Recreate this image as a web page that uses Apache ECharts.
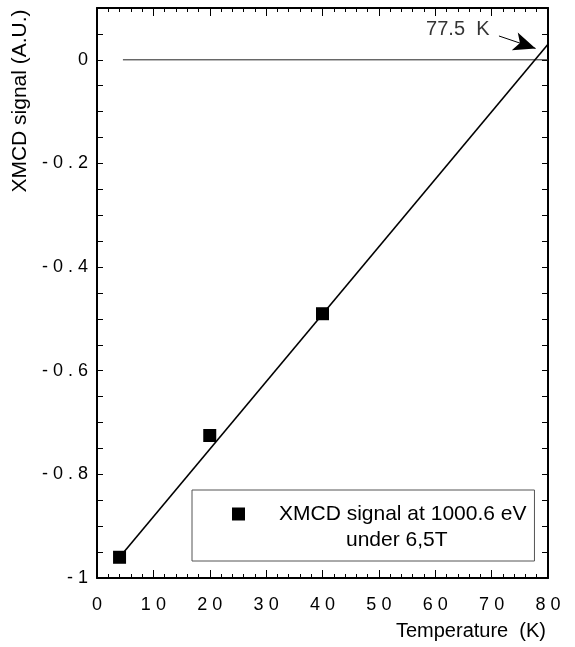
<!DOCTYPE html>
<html>
<head>
<meta charset="utf-8">
<script src="https://cdn.jsdelivr.net/npm/echarts@6/dist/echarts.min.js"></script>
<style>html,body{margin:0;padding:0;background:#fff;}#c{width:575px;height:647px;}</style>
</head>
<body>
<div id="c"></div>
<script>
// ---- data ----
const xTickValues = [0, 10, 20, 30, 40, 50, 60, 70, 80];
const xTickLabels = ['0', '1 0', '2 0', '3 0', '4 0', '5 0', '6 0', '7 0', '8 0'];
const yTickValues = [-1, -0.8, -0.6, -0.4, -0.2, 0];
const yTickLabels = ['- 1', '- 0 . 8', '- 0 . 6', '- 0 . 4', '- 0 . 2', '0'];
const temperature = [4, 20, 40];
const signal = [-0.96, -0.725, -0.49];
const fitT = [4, 80];
const fitSignal = [-0.96, 0.03];
const zeroT = [4.6, 80];
const zeroSignal = [0, 0];
const arrowT = [71.3, 77.8];
const arrowSignal = [0.046, 0.022];
const annotT = [64];
const annotSignal = [0.058];
const annotText = '77.5  K';
const legendLine1 = 'XMCD signal at 1000.6 eV';
const legendLine2 = 'under 6,5T';

const FONT = 'Liberation Sans, Arial, Helvetica, sans-serif';
const zip = (a, b) => a.map((v, i) => [v, b[i]]);
const lookup = (vals, labels) => (v) => {
  for (let i = 0; i < vals.length; i++) if (Math.abs(vals[i] - v) < 1e-9) return labels[i];
  return '';
};

const chart = echarts.init(document.getElementById('c'), null, {renderer: 'canvas'});
const black = '#000';
const baseX = {
  type: 'value', min: 0, max: 80, interval: 10,
  axisLine: {show: true, onZero: false, lineStyle: {color: black, width: 2}},
  axisTick: {show: true, inside: true, length: 8, lineStyle: {color: black, width: 1}},
  minorTick: {show: true, splitNumber: 5, length: 4, lineStyle: {color: black, width: 1}},
  splitLine: {show: false}
};
const baseY = {
  type: 'value', min: -1, max: 0.1, interval: 0.05,
  axisLine: {show: true, onZero: false, lineStyle: {color: black, width: 2}},
  axisTick: {show: true, inside: true, length: 6, lineStyle: {color: black, width: 1}},
  splitLine: {show: false}
};

chart.setOption({
  animation: false,
  backgroundColor: '#fff',
  textStyle: {fontFamily: FONT, color: black},
  grid: {left: 97, right: 27, top: 8, bottom: 69},
  xAxis: [
    Object.assign({}, baseX, {
      position: 'bottom',
      name: 'Temperature  (K)', nameLocation: 'end', nameGap: -2,
      nameTextStyle: {fontFamily: FONT, fontSize: 20, color: black, align: 'right', verticalAlign: 'top', padding: [43, 0, 0, 0]},
      axisLabel: {show: true, margin: 18, fontFamily: FONT, fontSize: 18, color: black, formatter: lookup(xTickValues, xTickLabels)}
    }),
    Object.assign({}, baseX, {position: 'top', axisLabel: {show: false}})
  ],
  yAxis: [
    Object.assign({}, baseY, {
      position: 'left',
      name: 'XMCD signal (A.U.)', nameLocation: 'middle', nameGap: 64, nameRotate: 90,
      nameTextStyle: {fontFamily: FONT, fontSize: 21, color: black, padding: [0, 0, 0, 384]},
      axisLabel: {show: true, margin: 9, fontFamily: FONT, fontSize: 18, color: black, formatter: lookup(yTickValues, yTickLabels), showMaxLabel: false}
    }),
    Object.assign({}, baseY, {position: 'right', axisLabel: {show: false}})
  ],
  legend: {
    show: true, orient: 'vertical', left: 192, top: 490,
    padding: [13, 8, 10, 40],
    itemWidth: 13, itemHeight: 13, itemGap: 4,
    backgroundColor: '#fff', borderColor: '#555', borderWidth: 1, borderRadius: 0,
    selectedMode: false,
    itemStyle: {opacity: 1},
    textStyle: {fontFamily: FONT, fontSize: 21, lineHeight: 22, color: black},
    data: [
      {name: legendLine1, icon: 'rect', textStyle: {padding: [0, 0, 0, 29]}},
      {name: legendLine2, icon: 'none', textStyle: {padding: [0, 0, 0, 96]}}
    ]
  },
  series: [
    {
      name: 'zero', type: 'line', xAxisIndex: 0, yAxisIndex: 0,
      data: zip(zeroT, zeroSignal), symbol: 'none', silent: true,
      lineStyle: {color: '#222', width: 1}, z: 2
    },
    {
      name: 'fit', type: 'line', xAxisIndex: 0, yAxisIndex: 0,
      data: zip(fitT, fitSignal), symbol: 'none', silent: true,
      lineStyle: {color: black, width: 1.6}, z: 3,
      markLine: {
        silent: true, symbol: ['none', 'arrow'], symbolSize: [14, 22],
        lineStyle: {color: black, width: 1, type: 'solid'}, label: {show: false},
        data: [[{coord: [arrowT[0], arrowSignal[0]]}, {coord: [arrowT[1], arrowSignal[1]]}]]
      }
    },
    {
      name: 'annotation', type: 'scatter', xAxisIndex: 0, yAxisIndex: 0,
      data: zip(annotT, annotSignal), symbolSize: 0, silent: true,
      label: {show: true, position: 'inside', formatter: annotText, fontFamily: FONT, fontSize: 20, color: black}
    },
    {
      name: legendLine1, type: 'scatter', xAxisIndex: 0, yAxisIndex: 0,
      data: zip(temperature, signal), symbol: 'rect', symbolSize: 13,
      itemStyle: {color: black, opacity: 1}, z: 5
    },
    {
      name: legendLine2, type: 'scatter', xAxisIndex: 0, yAxisIndex: 0,
      data: [], symbol: 'none', itemStyle: {color: 'transparent'}
    }
  ]
});
</script>
</body>
</html>
